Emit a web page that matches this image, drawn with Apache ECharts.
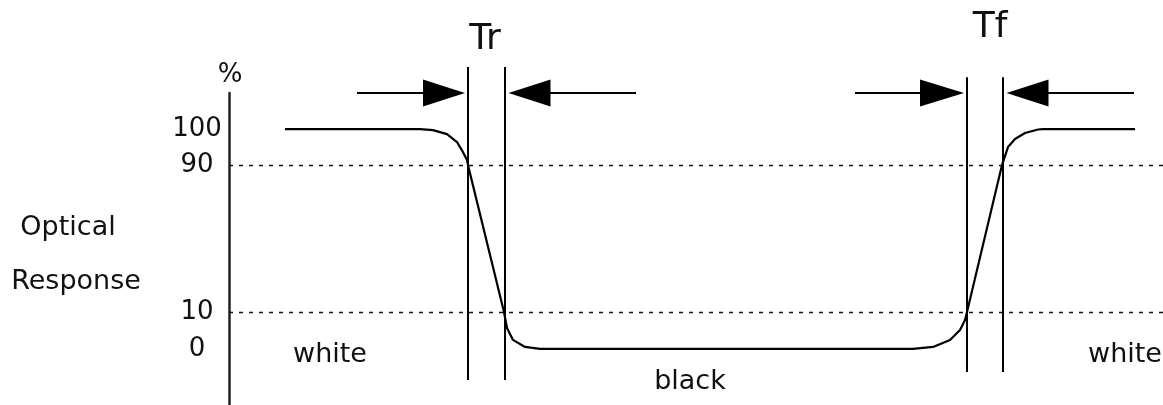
<!DOCTYPE html>
<html>
<head>
<meta charset="utf-8">
<script src="https://cdn.jsdelivr.net/npm/echarts@6/dist/echarts.min.js"></script>
<style>
  html, body { margin: 0; padding: 0; background: #fff; }
  #chart { width: 1163px; height: 405px; }
</style>
</head>
<body>
<div id="chart"></div>
<script>
// x = time (arbitrary units), y = schematic response level (0 = black, 100 = white)
const responseX = [56, 191, 204, 218, 228, 234, 238, 239, 275, 278, 284, 296, 311, 684, 704, 721, 731, 736, 738, 773, 779, 786, 796, 809, 814, 906]
const responseY = [100, 100, 99.5, 97.7, 94.1, 89.5, 85.9, 83.6, 16.8, 9.5, 4.1, 0.9, 0, 0, 0.9, 4.1, 8.6, 13.2, 16.8, 83.6, 91.8, 95.5, 98.2, 99.8, 100, 100]

// tick labels and where they sit on the schematic level axis
const tickLabels = ['0', '10', '90', '100']
const tickLevels = [0, 16.8, 83.6, 100]

// Tr / Tf marker lines
const markerX = [239, 276, 738, 774]
const markerTop = [128.2, 128.2, 123.6, 123.6]
const markerBottom = [-14.1, -14.1, -10.5, -10.5]

// arrows: shaft start, head centre, head length, direction
const arrowLevel = 116.4
const arrowStart = [128, 407, 626, 905]
const arrowHead = [215, 300.5, 713, 798.5]
const arrowLen = [42, 42, 44, 42]
const arrowDir = ['right', 'left', 'right', 'left']

const notes = [
  { name: 'Tr', x: 256, y: 140.5, size: 36 },
  { name: 'Tf', x: 761, y: 146, size: 36 },
  { name: '%', x: 1, y: 124.5, size: 26 },
  { name: 'Optical', x: -161, y: 55, size: 27 },
  { name: 'Response', x: -153, y: 30.5, size: 27 },
  { name: 'white', x: 101, y: -2.7, size: 27 },
  { name: 'black', x: 461, y: -15, size: 27 },
  { name: 'white', x: 896, y: -2.7, size: 27 }
]

const font = 'DejaVu Sans'
const ink = '#000'

const series = []

series.push({
  type: 'line',
  data: responseX.map((x, i) => [x, responseY[i]]),
  symbol: 'none',
  clip: false,
  lineStyle: { color: ink, width: 2.2 },
  markLine: {
    silent: true,
    symbol: 'none',
    label: { show: false },
    lineStyle: { color: '#111', width: 1.3, type: [4, 6] },
    data: [{ yAxis: tickLevels[1] }, { yAxis: tickLevels[2] }]
  }
})

markerX.forEach((x, i) => {
  series.push({
    type: 'line',
    data: [[x, markerTop[i]], [x, markerBottom[i]]],
    symbol: 'none',
    clip: false,
    lineStyle: { color: ink, width: 2 }
  })
})

arrowStart.forEach((x, i) => {
  series.push({
    type: 'line',
    data: [[x, arrowLevel], [arrowHead[i], arrowLevel]],
    symbol: 'none',
    clip: false,
    lineStyle: { color: ink, width: 2 }
  })
})

series.push({
  type: 'scatter',
  clip: false,
  data: arrowHead.map((x, i) => ({
    value: [x, arrowLevel],
    symbolSize: [27, arrowLen[i]],
    symbolRotate: arrowDir[i] === 'right' ? -90 : 90
  })),
  symbol: 'triangle',
  itemStyle: { color: '#000', opacity: 1 }
})

series.push({
  type: 'scatter',
  clip: false,
  symbolSize: 0,
  itemStyle: { opacity: 1 },
  data: notes.map(n => ({
    name: n.name,
    value: [n.x, n.y],
    label: { fontSize: n.size }
  })),
  label: {
    show: true,
    position: 'inside',
    formatter: '{b}',
    color: '#111',
    opacity: 1,
    fontFamily: font
  }
})

const chart = echarts.init(document.getElementById('chart'))
chart.setOption({
  animation: false,
  grid: { left: 229, right: 0, top: 93, bottom: 0 },
  xAxis: {
    type: 'value',
    min: 0,
    max: 934,
    show: false
  },
  yAxis: {
    type: 'value',
    min: -25.5,
    max: 116.4,
    axisLine: { show: true, lineStyle: { color: '#222', width: 2.5 } },
    axisTick: { show: false },
    splitLine: { show: false },
    axisLabel: {
      customValues: tickLevels,
      formatter: v => tickLabels[tickLevels.indexOf(v)],
      align: 'center',
      margin: 32,
      fontSize: 26,
      fontFamily: font,
      color: '#111'
    }
  },
  series: series
})
</script>
</body>
</html>
